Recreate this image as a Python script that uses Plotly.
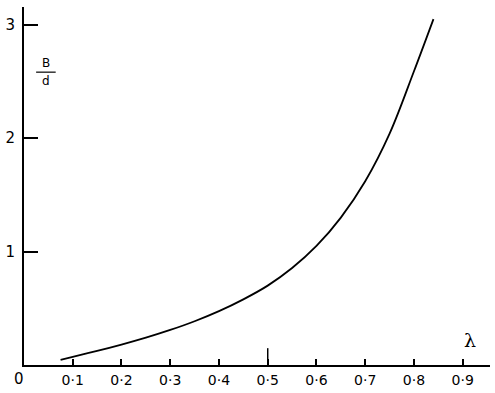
import plotly.graph_objects as go

# B/d as a function of lambda
lam = [0.075, 0.10, 0.15, 0.20, 0.25, 0.30, 0.35, 0.40, 0.45, 0.50,
       0.55, 0.60, 0.65, 0.70, 0.75, 0.80, 0.84]
b_over_d = [0.045, 0.072, 0.124, 0.180, 0.241, 0.309, 0.386, 0.475, 0.579, 0.700,
            0.855, 1.050, 1.300, 1.620, 2.040, 2.590, 3.050]

x_ticks = [0.1, 0.2, 0.3, 0.4, 0.5, 0.6, 0.7, 0.8, 0.9]
x_tick_text = ["0·1", "0·2", "0·3", "0·4", "0·5", "0·6", "0·7", "0·8", "0·9"]
y_ticks = [1, 2, 3]
y_tick_text = ["1", "2", "3"]

FONT = "DejaVu Sans, Verdana, sans-serif"

fig = go.Figure()
fig.add_trace(go.Scatter(
    x=lam, y=b_over_d, mode="lines",
    line=dict(color="black", width=1.8, shape="spline", smoothing=1.0),
    hoverinfo="skip", showlegend=False,
))

fig.update_layout(
    width=495, height=393,
    margin=dict(l=24, r=5, t=7, b=24),
    paper_bgcolor="white", plot_bgcolor="white",
    font=dict(family=FONT, size=14, color="black"),
    xaxis=dict(
        range=[0, 0.956], showgrid=False, zeroline=False,
        showline=True, linecolor="black", linewidth=2,
        tickvals=x_ticks, ticktext=x_tick_text,
        ticks="inside", ticklen=6, tickwidth=1.5, tickcolor="black",
        ticklabelstandoff=1,
    ),
    yaxis=dict(
        range=[0, 3.157], showgrid=False, zeroline=False,
        showline=True, linecolor="black", linewidth=2,
        tickvals=y_ticks, ticktext=y_tick_text,
        ticks="inside", ticklen=14, tickwidth=1.5, tickcolor="black",
        ticklabelstandoff=4, tickfont=dict(size=15),
    ),
    shapes=[
        # taller mark at lambda = 0.5
        dict(type="line", xref="x", yref="paper", x0=0.5, x1=0.5,
             y0=0, y1=0.047, line=dict(color="black", width=1.5)),
        # fraction bar of the y label
        dict(type="line", xref="paper", yref="paper", x0=0.026, x1=0.068,
             y0=0.818, y1=0.818, line=dict(color="black", width=1.2)),
    ],
    annotations=[
        dict(text="0", x=0, y=0, xref="x", yref="y", xanchor="center",
             yanchor="top", xshift=-5, yshift=-3, showarrow=False,
             font=dict(size=15)),
        dict(text="λ", x=0.915, y=0, xref="x", yref="y", xanchor="center",
             yanchor="bottom", yshift=12, showarrow=False,
             font=dict(size=19, family="DejaVu Serif, serif")),
        dict(text="B", x=0.047, y=0.818, xref="paper", yref="paper",
             xanchor="center", yanchor="bottom", yshift=0, showarrow=False,
             font=dict(size=12)),
        dict(text="d", x=0.047, y=0.818, xref="paper", yref="paper",
             xanchor="center", yanchor="top", yshift=0, showarrow=False,
             font=dict(size=12)),
    ],
)

fig.write_html("out.html")
